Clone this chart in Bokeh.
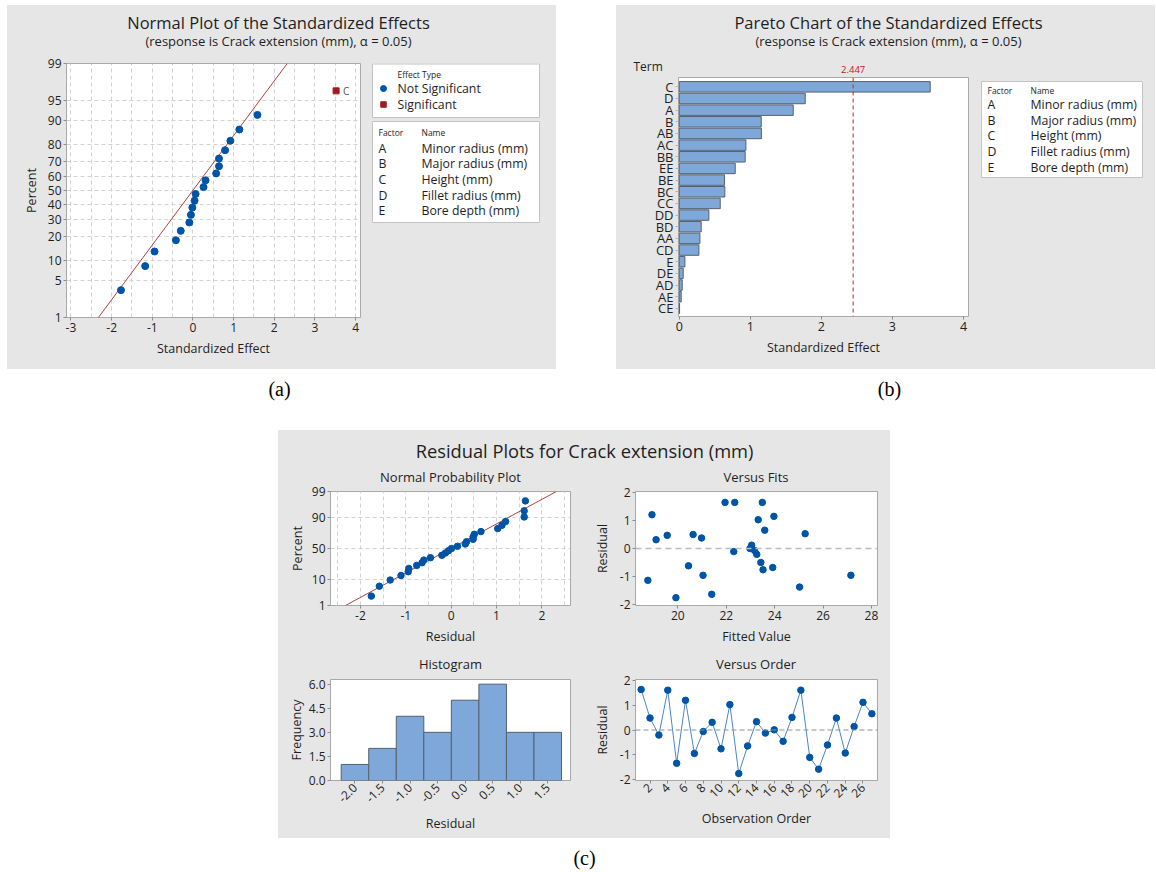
import math
from bokeh.plotting import figure
from bokeh.models import Range1d, FixedTicker, Span, Spacer, PrintfTickFormatter
from bokeh.layouts import row, column
from bokeh.core.properties import value
from bokeh.embed import file_html
from bokeh.resources import INLINE

# ---------------- data ----------------
# (a) normal plot of standardized effects
ns_effects = [-1.77, -1.175, -0.945, -0.42, -0.30, -0.09, -0.05, -0.015, 0.04, 0.065,
              0.26, 0.31, 0.57, 0.64, 0.64, 0.79, 0.92, 1.14, 1.585]
ns_percent = [3.4, 8.3, 13.2, 18.1, 23.0, 27.9, 32.8, 37.7, 42.6, 47.5,
              52.5, 57.4, 62.3, 67.2, 72.1, 77.0, 81.9, 86.8, 91.7]
sig_effects = [3.52]
sig_percent = [96.6]
sig_terms = ["C"]
effects_line_x = [-2.325, 2.317]
effects_line_pct = [1, 99]
pct_ticks = [1, 5, 10, 20, 30, 40, 50, 60, 70, 80, 90, 95, 99]

# (b) pareto chart
pareto_terms = ["C", "D", "A", "B", "AB", "AC", "BB", "EE", "BE", "BC",
                "CC", "DD", "BD", "AA", "CD", "E", "DE", "AD", "AE", "CE"]
pareto_values = [3.531, 1.773, 1.604, 1.154, 1.156, 0.938, 0.928, 0.788, 0.638, 0.642,
                 0.577, 0.417, 0.309, 0.291, 0.277, 0.080, 0.056, 0.042, 0.028, 0.005]
pareto_ref = 2.447

factor_letters = ["A", "B", "C", "D", "E"]
factor_names = ["Minor radius (mm)", "Major radius (mm)", "Height (mm)",
                "Fillet radius (mm)", "Bore depth (mm)"]

# (c) residual plots
residuals = [1.636, 0.483, -0.205, 1.609, -1.344, 1.199, -0.947, -0.06, 0.311, -0.76,
             1.026, -1.76, -0.642, 0.338, -0.126, 0.007, -0.457, 0.51, 1.609, -1.106,
             -1.583, -0.603, 0.483, -0.934, 0.139, 1.119, 0.656]
observation = list(range(1, len(residuals) + 1))
npp_percent = [2.6, 6.2, 9.9, 13.5, 17.2, 20.8, 24.5, 28.1, 31.8, 35.4, 39.1, 42.7, 46.4, 50.0,
               53.6, 57.3, 60.9, 64.6, 68.2, 71.9, 75.5, 79.2, 82.8, 86.5, 90.1, 93.8, 97.4]
npp_line_x = [-2.33, 2.32]
npp_line_pct = [1, 99]
npp_ticks = [1, 10, 50, 90, 99]

fits_x = [18.76, 18.93, 19.10, 19.56, 19.92, 20.44, 20.63, 20.98, 21.04, 21.40, 21.95, 22.31,
          22.35, 22.98, 23.05, 23.17, 23.26, 23.32, 23.43, 23.49, 23.52, 23.59, 23.92, 23.97,
          25.03, 25.26, 27.15]
fits_resid = [-1.14, 1.21, 0.315, 0.47, -1.76, -0.62, 0.50, 0.376, -0.96, -1.64, 1.65, -0.11,
              1.65, 0.0, 0.12, -0.07, -0.21, 1.03, -0.50, 1.65, -0.76, 0.655, -0.68, 1.15,
              -1.38, 0.53, -0.96]

hist_centers = [-2.0, -1.5, -1.0, -0.5, 0.0, 0.5, 1.0, 1.5]
hist_counts = [1, 2, 4, 3, 5, 6, 3, 3]
hist_width = 0.5

# ---------------- style ----------------
FONT = "Open Sans"
SERIF = "Liberation Serif"
BG = "#e6e6e6"
TXT = "#1e1e1e"
BLUE = "#0054a6"
RED = "#a31b1f"
LINE_RED = "#b5403c"
BAR = "#7ea8da"
BAR_EDGE = "#56606c"
FRAME = "#a9a9a9"
GRID = "#d2d2d2"
PANEL_STYLE = {"background-color": BG}


def inv_norm(pct):
    p = pct / 100.0
    lo, hi = -9.0, 9.0
    for _ in range(100):
        mid = 0.5 * (lo + hi)
        if 0.5 * (1 + math.erf(mid / math.sqrt(2))) < p:
            lo = mid
        else:
            hi = mid
    return round(0.5 * (lo + hi), 6)


def blank_fig(w, h, bg, top=0, bottom=0):
    # y data coordinates equal pixel offsets from the top of the figure
    p = figure(width=w, height=h, x_range=Range1d(0, w), y_range=Range1d(h - bottom, top),
               toolbar_location=None, output_backend="svg",
               min_border_left=0, min_border_right=0,
               min_border_top=top, min_border_bottom=bottom,
               x_axis_type=None, y_axis_type=None)
    p.background_fill_color = bg
    p.border_fill_color = bg
    p.outline_line_color = None
    return p


def put_text(p, x, y, t, size, align="left", color=TXT, font=FONT):
    p.text(x=[x], y=[y], text=[t], text_font=value(font), text_font_size=value(size),
           text_align=align, text_baseline="middle", text_color=color)


def minus_overrides(ticks, fmt="%g"):
    return {t: (fmt % t) for t in ticks}


def style_plot(p, tick_fs="12px", label_fs="12.5px"):
    p.outline_line_color = FRAME
    p.background_fill_color = "white"
    p.border_fill_color = BG
    for ax in p.axis:
        ax.axis_line_color = None
        ax.major_tick_line_color = "#8c8c8c"
        ax.major_tick_out = 3
        ax.major_tick_in = 0
        ax.minor_tick_line_color = None
        ax.major_label_text_font = FONT
        ax.major_label_text_font_size = tick_fs
        ax.major_label_text_color = TXT
        ax.major_label_standoff = 2
        ax.axis_label_text_font = FONT
        ax.axis_label_text_font_size = label_fs
        ax.axis_label_text_font_style = "normal"
        ax.axis_label_text_color = TXT
        ax.axis_label_standoff = 5


def grid_style(p):
    for g in p.grid:
        g.grid_line_color = GRID
        g.grid_line_dash = "4 3"
        g.grid_line_width = 1


def frame_center(left, width, right):
    return left + (width - left - right) / 2.0


# ---------------- panel (a) ----------------
A_TOP, A_BOT = 8, 52
a_title = blank_fig(549, 50, BG)
put_text(a_title, 271, 17, "Normal Plot of the Standardized Effects", "16.5px", "center")
put_text(a_title, 271, 35, "(response is Crack extension (mm), \u03b1 = 0.05)", "13px", "center")

a_main = figure(width=363, height=314, x_range=Range1d(-3.11, 4.12),
                y_range=Range1d(inv_norm(1), inv_norm(99)),
                toolbar_location=None, output_backend="svg",
                min_border_left=59, min_border_right=10, min_border_top=A_TOP, min_border_bottom=A_BOT,
                x_axis_label="Standardized Effect", y_axis_label="Percent")
style_plot(a_main)
a_xt = [-3, -2, -1, 0, 1, 2, 3, 4]
a_main.xaxis.ticker = FixedTicker(ticks=a_xt)
a_main.xaxis.major_label_overrides = minus_overrides(a_xt)
a_ticks = [inv_norm(v) for v in pct_ticks]
a_main.yaxis.ticker = FixedTicker(ticks=a_ticks)
a_main.yaxis.major_label_overrides = {t: str(v) for t, v in zip(a_ticks, pct_ticks)}
a_main.xgrid.ticker = FixedTicker(ticks=[-3 + 0.5 * i for i in range(15)])
a_main.ygrid.ticker = FixedTicker(ticks=a_ticks)
grid_style(a_main)
a_main.line(effects_line_x, [inv_norm(v) for v in effects_line_pct], line_color=LINE_RED, line_width=1)
a_main.scatter(ns_effects, [inv_norm(v) for v in ns_percent], size=7, color=BLUE, marker="circle")
a_main.scatter(sig_effects, [inv_norm(v) for v in sig_percent], size=6, color=RED, marker="square")
a_main.text(sig_effects, [inv_norm(v) for v in sig_percent], text=sig_terms, x_offset=7,
            text_baseline="middle", text_font=value(FONT), text_font_size=value("10px"),
            text_color="#505050")

a_leg = blank_fig(186, 314, BG, A_TOP, A_BOT)
a_leg.quad(left=[2, 2], right=[169, 169], top=[8.5, 66], bottom=[62, 167],
           fill_color="white", line_color="#c3c3c3", line_width=1)
put_text(a_leg, 27, 19, "Effect Type", "8.5px")
a_leg.scatter([13], [33], size=6, color=BLUE, marker="circle")
put_text(a_leg, 27, 33, "Not Significant", "12.3px")
a_leg.scatter([13], [49], size=5.5, color=RED, marker="square")
put_text(a_leg, 27, 49, "Significant", "12.3px")
put_text(a_leg, 8, 77, "Factor", "8.5px")
put_text(a_leg, 51, 77, "Name", "8.5px")
for i, (f, n) in enumerate(zip(factor_letters, factor_names)):
    put_text(a_leg, 8, 92.5 + 15.7 * i, f, "12.3px")
    put_text(a_leg, 51, 92.5 + 15.7 * i, n, "12.3px")

panelA = column(a_title, row(a_main, a_leg, styles=PANEL_STYLE), styles=PANEL_STYLE)

# ---------------- panel (b) ----------------
B_TOP, B_BOT, B_LEFT, B_RIGHT, B_W = 1, 53, 62, 7, 359
bx0, bx1 = -0.01, 4.07
n_terms = len(pareto_terms)
pos = list(range(n_terms))
b_main = figure(width=B_W, height=293, x_range=Range1d(bx0, bx1),
                y_range=Range1d(n_terms - 0.3, -0.8),
                toolbar_location=None, output_backend="svg",
                min_border_left=B_LEFT, min_border_right=B_RIGHT,
                min_border_top=B_TOP, min_border_bottom=B_BOT,
                x_axis_label="Standardized Effect")
style_plot(b_main, tick_fs="12.5px")
b_main.yaxis.major_label_text_font_size = "13px"
b_main.grid.visible = False
b_main.xaxis.ticker = FixedTicker(ticks=[0, 1, 2, 3, 4])
b_main.yaxis.ticker = FixedTicker(ticks=pos)
b_main.yaxis.major_label_overrides = {i: t for i, t in zip(pos, pareto_terms)}
b_main.yaxis.major_tick_line_color = "#b5b5b5"
b_main.hbar(y=pos, right=pareto_values, left=0, height=0.9, fill_color=BAR,
            line_color=BAR_EDGE, line_width=1)
b_main.add_layout(Span(location=pareto_ref, dimension="height", line_color="#d02020",
                       line_dash="4 3", line_width=1))

b_title = blank_fig(539, 71, BG)
put_text(b_title, 272, 17, "Pareto Chart of the Standardized Effects", "16.5px", "center")
put_text(b_title, 272, 35, "(response is Crack extension (mm), \u03b1 = 0.05)", "13px", "center")
put_text(b_title, 17, 61, "Term", "12px")
ref_px = B_LEFT + (pareto_ref - bx0) / (bx1 - bx0) * (B_W - B_LEFT - B_RIGHT)
put_text(b_title, ref_px, 64, "%.3f" % pareto_ref, "9.5px", "center", color="#c02020")

b_leg = blank_fig(180, 293, BG, B_TOP, B_BOT)
b_leg.quad(left=[6], right=[167], top=[5], bottom=[101],
           fill_color="white", line_color="#c3c3c3", line_width=1)
put_text(b_leg, 12, 14, "Factor", "8.5px")
put_text(b_leg, 55, 14, "Name", "8.5px")
for i, (f, n) in enumerate(zip(factor_letters, factor_names)):
    put_text(b_leg, 12, 28 + 15.7 * i, f, "12.3px")
    put_text(b_leg, 55, 28 + 15.7 * i, n, "12.3px")

panelB = column(b_title, row(b_main, b_leg, styles=PANEL_STYLE), styles=PANEL_STYLE)

row1 = row(Spacer(width=7, height=364), panelA, Spacer(width=60, height=364), panelB)

# ---------------- labels (a) (b) ----------------
lab_ab = blank_fig(1155, 61, "white")
put_text(lab_ab, 279, 19, "(a)", "20px", "center", color="black", font=SERIF)
put_text(lab_ab, 889, 19, "(b)", "20px", "center", color="black", font=SERIF)

# ---------------- panel (c) ----------------
L_W, R_W = 312, 300
L_L, L_R = 52, 20
R_L, R_R = 44, 13
TOP_SUB = 7

c_top = blank_fig(612, 54, BG)
put_text(c_top, 306, 20, "Residual Plots for Crack extension (mm)", "18.3px", "center")
put_text(c_top, frame_center(L_L, L_W, L_R), 46, "Normal Probability Plot", "13px", "center")
put_text(c_top, L_W + frame_center(R_L, R_W, R_R), 46, "Versus Fits", "13px", "center")

npp = figure(width=L_W, height=166, x_range=Range1d(-2.66, 2.63),
             y_range=Range1d(inv_norm(1), inv_norm(99)),
             toolbar_location=None, output_backend="svg",
             min_border_left=L_L, min_border_right=L_R, min_border_top=TOP_SUB, min_border_bottom=45,
             x_axis_label="Residual", y_axis_label="Percent")
style_plot(npp)
npp.yaxis.axis_label_standoff = 3
n_xt = [-2, -1, 0, 1, 2]
npp.xaxis.ticker = FixedTicker(ticks=n_xt)
npp.xaxis.major_label_overrides = minus_overrides(n_xt)
n_ticks = [inv_norm(v) for v in npp_ticks]
npp.yaxis.ticker = FixedTicker(ticks=n_ticks)
npp.yaxis.major_label_overrides = {t: str(v) for t, v in zip(n_ticks, npp_ticks)}
npp.xgrid.ticker = FixedTicker(ticks=[-2.5 + 0.5 * i for i in range(11)])
npp.ygrid.ticker = FixedTicker(ticks=n_ticks)
grid_style(npp)
npp.line(npp_line_x, [inv_norm(v) for v in npp_line_pct], line_color=LINE_RED, line_width=1)
npp.scatter(sorted(residuals), [inv_norm(v) for v in npp_percent], size=6.5, color=BLUE)

fits = figure(width=R_W, height=166, x_range=Range1d(18.25, 28.25), y_range=Range1d(-2.04, 2.04),
              toolbar_location=None, output_backend="svg",
              min_border_left=R_L, min_border_right=R_R, min_border_top=TOP_SUB, min_border_bottom=45,
              x_axis_label="Fitted Value", y_axis_label="Residual")
style_plot(fits)
fits.yaxis.axis_label_standoff = 6
fits.grid.visible = False
fits.xaxis.ticker = FixedTicker(ticks=[20, 22, 24, 26, 28])
r_yt = [-2, -1, 0, 1, 2]
fits.yaxis.ticker = FixedTicker(ticks=r_yt)
fits.yaxis.major_label_overrides = minus_overrides(r_yt)
fits.add_layout(Span(location=0, dimension="width", line_color="#bdbdbd", line_dash="6 4", line_width=1.5))
fits.scatter(fits_x, fits_resid, size=6.5, color=BLUE)

c_mid = blank_fig(612, 22, BG)
put_text(c_mid, frame_center(L_L, L_W, L_R), 13, "Histogram", "13px", "center")
put_text(c_mid, L_W + frame_center(R_L, R_W, R_R), 13, "Versus Order", "13px", "center")

hist = figure(width=L_W, height=166, x_range=Range1d(-2.444, 1.913), y_range=Range1d(0, 6.29),
              toolbar_location=None, output_backend="svg",
              min_border_left=L_L, min_border_right=L_R, min_border_top=TOP_SUB, min_border_bottom=58,
              x_axis_label="Residual", y_axis_label="Frequency")
style_plot(hist)
hist.yaxis.axis_label_standoff = 1
hist.grid.visible = False
hist.xaxis.ticker = FixedTicker(ticks=hist_centers)
hist.xaxis.formatter = PrintfTickFormatter(format="%.1f")
hist.xaxis.major_label_orientation = math.pi / 4
hist.yaxis.ticker = FixedTicker(ticks=[0, 1.5, 3.0, 4.5, 6.0])
hist.yaxis.formatter = PrintfTickFormatter(format="%.1f")
hist.vbar(x=hist_centers, top=hist_counts, bottom=0, width=hist_width, fill_color=BAR,
          line_color=BAR_EDGE, line_width=1)

order = figure(width=R_W, height=166, x_range=Range1d(0.365, 27.635), y_range=Range1d(-2.04, 2.04),
               toolbar_location=None, output_backend="svg",
               min_border_left=R_L, min_border_right=R_R, min_border_top=TOP_SUB, min_border_bottom=58,
               x_axis_label="Observation Order", y_axis_label="Residual")
style_plot(order)
order.yaxis.axis_label_standoff = 6
order.grid.visible = False
order.xaxis.ticker = FixedTicker(ticks=list(range(2, 27, 2)))
order.xaxis.major_label_orientation = math.pi / 4
order.yaxis.ticker = FixedTicker(ticks=r_yt)
order.yaxis.major_label_overrides = minus_overrides(r_yt)
order.add_layout(Span(location=0, dimension="width", line_color="#909090", line_dash="5 3", line_width=1))
order.line(observation, residuals, line_color="#4a86c8", line_width=1)
order.scatter(observation, residuals, size=6.5, color=BLUE)

panelC = column(c_top, row(npp, fits, styles=PANEL_STYLE), c_mid,
                row(hist, order, styles=PANEL_STYLE), styles=PANEL_STYLE)
row3 = row(Spacer(width=278, height=408), panelC)

lab_c = blank_fig(1155, 32, "white")
put_text(lab_c, 584, 19, "(c)", "20px", "center", color="black", font=SERIF)

layout = column(Spacer(width=1155, height=5), row1, lab_ab, row3, lab_c)

open("out.html", "w").write(file_html(layout, INLINE))
